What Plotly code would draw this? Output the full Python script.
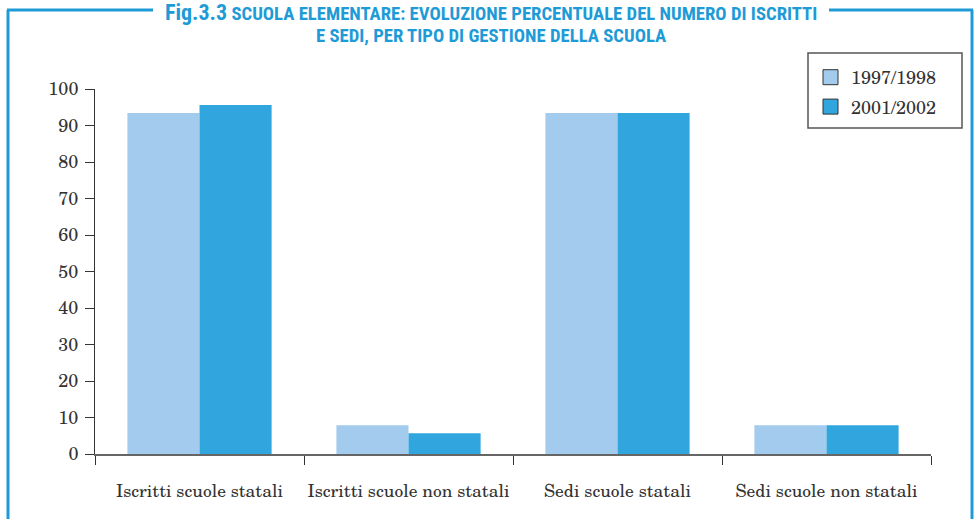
import plotly.graph_objects as go

categories = ["Iscritti scuole statali", "Iscritti scuole non statali", "Sedi scuole statali", "Sedi scuole non statali"]
series_names = ["1997/1998", "2001/2002"]
values_1997 = [93.4, 7.9, 93.4, 7.9]
values_2001 = [95.6, 5.7, 93.4, 7.9]
y_ticks = [0, 10, 20, 30, 40, 50, 60, 70, 80, 90, 100]
colors = ["#A2CBEE", "#30A5DE"]

W, H = 975, 519
L, R, T, B = 95, 44, 89, 65
PW, PH = W - L - R, H - T - B

def px(x):
    return (x - L) / PW

def py(y):
    return (H - B - y) / PH

SERIF = "Century Schoolbook, TeX Gyre Schola, DejaVu Serif, serif"
COND = "Liberation Sans Narrow, Arial Narrow, Roboto Condensed, Roboto, sans-serif"
BLUE = "#1E9BD7"

fig = go.Figure()
for name, vals, col in zip(series_names, [values_1997, values_2001], colors):
    fig.add_trace(go.Bar(x=categories, y=vals, name=name, showlegend=False,
                         marker=dict(color=col, line=dict(width=0))))
for name, col in zip(series_names, colors):
    fig.add_trace(go.Scatter(x=[None], y=[None], mode="markers", name=name, legendgroup=name,
                             marker=dict(symbol="square", size=15, color=col,
                                         line=dict(color="#333", width=1))))

fig.update_layout(
    width=W, height=H,
    margin=dict(l=L, r=R, t=T, b=B, autoexpand=False),
    paper_bgcolor="white", plot_bgcolor="white",
    barmode="group", bargap=0.31, bargroupgap=0,
    font=dict(family=SERIF, size=17, color="#333"),
    showlegend=True,
    legend=dict(x=px(810), y=py(59), xanchor="left", yanchor="top",
                borderwidth=0, bgcolor="rgba(0,0,0,0)",
                font=dict(family=SERIF, size=18, color="#333"),
                itemwidth=31, tracegroupgap=3),
    xaxis=dict(showline=True, linecolor="#666", linewidth=2, ticks="outside",
               tickson="boundaries", ticklen=9, tickcolor="#333", tickwidth=1,
               showgrid=False, tickfont=dict(family=SERIF, size=17.5, color="#333"),
               tickangle=0, automargin=False,
               ticklabelstandoff=20, fixedrange=True),
    yaxis=dict(range=[0, 100], tickvals=y_ticks, showline=True, linecolor="#333",
               linewidth=1, ticks="outside", ticklen=9, tickcolor="#333",
               showgrid=False, zeroline=False, ticklabelstandoff=3, automargin=False,
               tickfont=dict(family=SERIF, size=18, color="#333")),
)

line = dict(color=BLUE, width=3)
shapes = [
    dict(type="line", xref="paper", yref="paper", x0=px(8), x1=px(8), y0=py(10), y1=py(530), line=line),
    dict(type="line", xref="paper", yref="paper", x0=px(972), x1=px(972), y0=py(10), y1=py(530), line=line),
    dict(type="line", xref="paper", yref="paper", x0=px(7), x1=px(153), y0=py(10), y1=py(10), line=line),
    dict(type="line", xref="paper", yref="paper", x0=px(829), x1=px(973), y0=py(10), y1=py(10), line=line),
    dict(type="rect", xref="paper", yref="paper", x0=px(808), x1=px(962), y0=py(53), y1=py(128),
         line=dict(color="#555", width=1.5), fillcolor="rgba(0,0,0,0)"),
]
fig.update_layout(shapes=shapes)

fig.add_annotation(xref="paper", yref="paper", x=px(491), y=py(12.5), xanchor="center", yanchor="middle",
                   showarrow=False,
                   text="<b><span style='font-size:22px'>Fig.3.3</span> SCUOLA ELEMENTARE: EVOLUZIONE PERCENTUALE DEL NUMERO DI ISCRITTI</b>",
                   font=dict(family=COND, size=18.7, color=BLUE))
fig.add_annotation(xref="paper", yref="paper", x=px(491), y=py(35.5), xanchor="center", yanchor="middle",
                   showarrow=False,
                   text="<b>E SEDI, PER TIPO DI GESTIONE DELLA SCUOLA</b>",
                   font=dict(family=COND, size=18.7, color=BLUE))

fig.write_html("out.html", config={"displayModeBar": False},
               post_script="document.body.style.margin='0px';")
